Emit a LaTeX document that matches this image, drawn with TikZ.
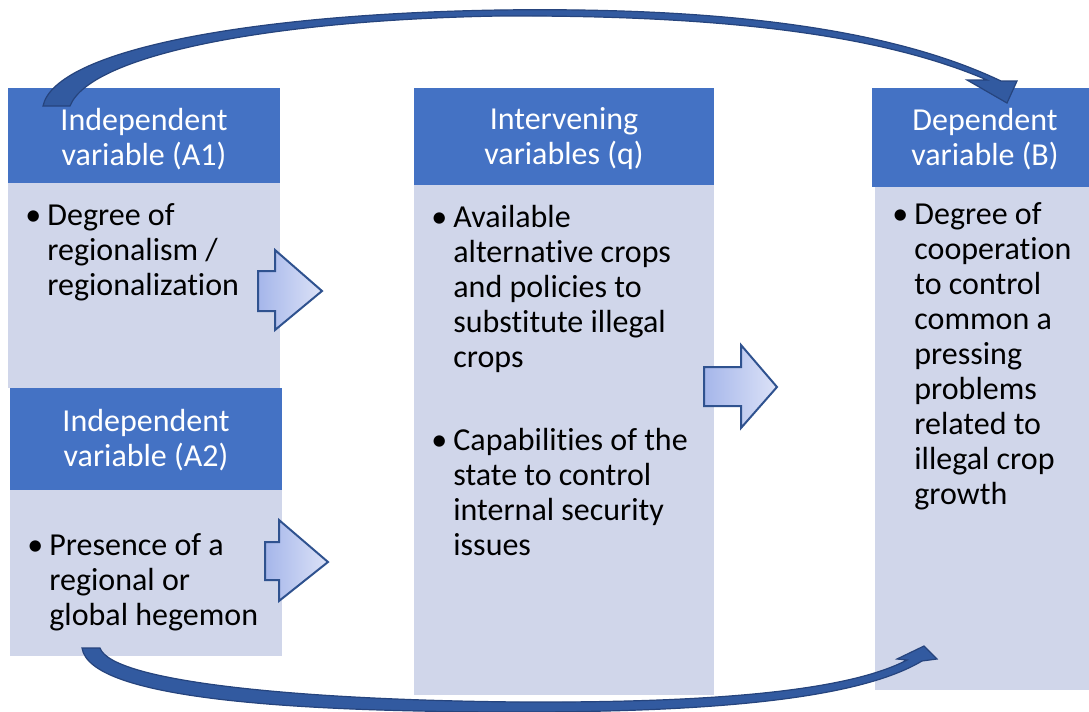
\documentclass[tikz,border=0pt]{standalone}
\usepackage{fontspec}
\setmainfont{Carlito}[Ligatures=CommonOff]
\usetikzlibrary{positioning}

\definecolor{hdrblue}{RGB}{68,114,196}
\definecolor{bodyblue}{RGB}{208,214,234}
\definecolor{arcblue}{RGB}{50,90,160}
\definecolor{arcedge}{RGB}{38,68,125}
\definecolor{arrowL}{RGB}{165,182,234}
\definecolor{arrowR}{RGB}{220,226,247}
\definecolor{arrowedge}{RGB}{47,82,143}

\tikzset{
  header/.style={fill=hdrblue, inner sep=0pt},
  headtext/.style={text=white, align=center, inner sep=0pt,
    font=\fontsize{16}{17.5}\selectfont},
  bodybox/.style={fill=bodyblue, inner sep=0pt},
  bodytext/.style={anchor=north west, inner sep=0pt,
    font=\fontsize{16}{17.5}\selectfont},
  bigarrow/.style={draw=arrowedge, line width=1pt, left color=arrowL,
    right color=arrowR, line join=miter},
  bentarrow/.style={fill=arcblue, draw=arcedge, line width=0.6pt, line join=miter}
}

\begin{document}
\begin{tikzpicture}[x=0.5pt, y=-0.5pt]
  \useasboundingbox (0,0) rectangle (1089,712);

  % light bodies
  \node [bodybox, minimum width=136pt, minimum height=102.5pt] (bA1) at (144,285.5) {};
  \node [bodybox, minimum width=136pt, minimum height=83pt] (bA2) at (146,573) {};
  \node [bodybox, minimum width=150pt, minimum height=255pt] (bq) at (564,440) {};
  \node [bodybox, minimum width=107pt, minimum height=251.5pt] (bB) at (982,438.5) {};

  % headers
  \node [header, minimum width=136pt, minimum height=47.5pt] (hA1) at (144,135.5) {};
  \node [header, minimum width=136pt, minimum height=51pt] (hA2) at (146,439) {};
  \node [header, minimum width=150pt, minimum height=48.5pt] (hq) at (564,136.5) {};
  \node [header, minimum width=108.5pt, minimum height=49.5pt] (hB) at (980.5,137.5) {};

  \node [headtext] (hA1t) at (144,139) {Independent\\variable (A1)};
  \node [headtext] (hA2t) at (146,440) {Independent\\variable (A2)};
  \node [headtext] (hqt) at (564,139) {Intervening\\variables (q)};
  \node [headtext] (hBt) at (985,139) {Dependent\\variable (B)};

  % bullet texts
  \node [bodytext] (tA1) at (25,200.5) {\begin{tabular}{@{}p{11pt}@{}l@{}}
    \textbullet & Degree of\\ & regionalism /\\ & regionalization\end{tabular}};
  \node [bodytext] (tA2) at (27,530.5) {\begin{tabular}{@{}p{11pt}@{}l@{}}
    \textbullet & Presence of a\\ & regional or\\ & global hegemon\end{tabular}};
  \node [bodytext] (tq) at (431,202.5) {\begin{tabular}{@{}p{11pt}@{}l@{}}
    \textbullet & Available\\ & alternative crops\\ & and policies to\\ & substitute illegal\\ & crops\\[24pt]
    \textbullet & Capabilities of the\\ & state to control\\ & internal security\\ & issues\end{tabular}};
  \node [bodytext] (tB) at (892,199.5) {\begin{tabular}{@{}p{11pt}@{}l@{}}
    \textbullet & Degree of\\ & cooperation\\ & to control\\ & common a\\ & pressing\\ & problems\\ & related to\\ & illegal crop\\ & growth\end{tabular}};

  % block arrows
  \draw [bigarrow] (258,271) -- (275,271) -- (275,250) -- (322,291) -- (275,330) -- (275,311) -- (258,311) -- cycle;
  \draw [bigarrow] (265,542) -- (279,542) -- (279,520) -- (328,562) -- (279,601) -- (279,580) -- (265,580) -- cycle;
  \draw [bigarrow] (704,367) -- (741,367) -- (741,345) -- (777,387) -- (741,428) -- (741,406) -- (704,406) -- cycle;

  % curved arrows
  \draw [bentarrow] (43,106) .. controls (55,50) and (250,14) .. (500,10)
    .. controls (720,7) and (890,28) .. (1001,81) -- (1017,81) -- (1007,103) -- (967,80) -- (987,80)
    .. controls (880,34) and (720,15) .. (500,16)
    .. controls (270,20) and (90,55) .. (70,106) -- cycle;
  \draw [bentarrow] (82,648) -- (100,648) .. controls (112,682) and (300,700) .. (520,702)
    .. controls (720,703) and (850,690) .. (907,660) -- (897,659) -- (924,646) -- (937,659) -- (922,661)
    .. controls (860,698) and (720,712) .. (520,712)
    .. controls (300,712) and (90,700) .. (82,648) -- cycle;
\end{tikzpicture}
\end{document}
